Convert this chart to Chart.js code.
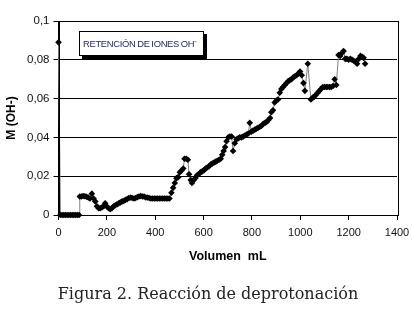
<!DOCTYPE html>
<html>
<head>
<meta charset="utf-8">
<script src="https://cdn.jsdelivr.net/npm/chart.js@4/dist/chart.umd.min.js"></script>
<style>
  html, body { margin: 0; padding: 0; background: #fff; }
  #wrap { position: relative; width: 412px; height: 316px; }
  #chart { position: absolute; left: 0; top: 0; }
  .legend-box {
    position: absolute; left: 79px; top: 31px; width: 120px; height: 23px;
    border: 1px solid #000; box-shadow: 3px 3px 0 #000; background: #fff;
    font: 9.4px "Liberation Sans", Arial, sans-serif; color: #1c2a6e;
    line-height: 23px; padding-left: 3px; white-space: nowrap; box-sizing: content-box;
    word-spacing: -0.6px; letter-spacing: -0.3px;
  }
  .legend-box sup { font-size: 7px; line-height: 0; }
  .caption {
    position: absolute; left: 2px; top: 284px; width: 412px; text-align: center;
    font: 16px "DejaVu Serif", serif; color: #222;
  }
</style>
</head>
<body>
<div id="wrap">
  <canvas id="chart" width="412" height="316"></canvas>
  <div class="legend-box">RETENCIÓN DE IONES OH<sup>-</sup></div>
  <div class="caption">Figura 2. Reacción de deprotonación</div>
</div>
<script>
// volumen (mL) y concentración M (OH-)
const VOLUME_ML = [
  0, 8, 15, 22, 29, 36, 43, 50, 57, 64, 71, 78, 85,
  88, 95, 102, 109, 116, 123, 130, 138, 145, 152, 159, 166, 173, 180, 187, 193,
  200, 207, 214, 221, 228, 235, 242, 249, 256, 263, 270, 277, 284, 291, 298,
  305, 312, 319, 326, 333, 340, 347, 354, 361, 368, 375, 382, 389, 396,
  403, 410, 417, 424, 431, 438, 445, 452, 459, 467, 474, 481, 488, 495,
  502, 509, 516, 521, 528, 535, 540, 547, 552, 559, 566, 573, 580, 587, 594,
  601, 608, 615, 622, 629, 636, 643, 650, 657, 664, 671, 677, 683, 689, 695,
  702, 709, 716, 722, 729, 736, 743, 750, 757, 764, 771, 778, 785, 791, 798,
  805, 812, 819, 826, 833, 840, 847, 854, 861, 868, 875, 880, 887, 894,
  901, 908, 915, 922, 929, 936, 943, 950, 957, 964, 971, 978, 985, 992, 999,
  1006, 1013, 1019, 1031, 1044, 1051, 1058, 1065, 1072, 1079, 1086, 1093,
  1100, 1107, 1114, 1121, 1128, 1135, 1142, 1149, 1158, 1165, 1172, 1179,
  1186, 1193, 1200, 1207, 1214, 1221, 1228, 1235, 1242, 1249, 1256, 1262, 1268
];
const M_OH = [
  0.089, 0, 0, 0, 0, 0, 0, 0, 0, 0, 0, 0, 0,
  0.0095, 0.0095, 0.0098, 0.0097, 0.0094, 0.009, 0.0085, 0.011, 0.0085, 0.007, 0.0045, 0.0035, 0.0035, 0.004, 0.0045, 0.006,
  0.0045, 0.0035, 0.003, 0.0035, 0.0045, 0.005, 0.0055, 0.006, 0.0065, 0.007, 0.0072, 0.0078, 0.0082, 0.0088, 0.009,
  0.0088, 0.0085, 0.0088, 0.0092, 0.0095, 0.0098, 0.0095, 0.0095, 0.009, 0.009, 0.0088, 0.0085, 0.0085, 0.0085,
  0.0085, 0.0085, 0.0085, 0.0085, 0.0085, 0.0085, 0.0085, 0.0085, 0.0085, 0.0115, 0.014, 0.0165, 0.019, 0.0195,
  0.022, 0.023, 0.024, 0.029, 0.029, 0.0285, 0.021, 0.018, 0.0165, 0.018, 0.019, 0.0205, 0.021, 0.022, 0.0225,
  0.023, 0.024, 0.0245, 0.025, 0.026, 0.0265, 0.027, 0.0275, 0.028, 0.0285, 0.029, 0.031, 0.033, 0.035, 0.038,
  0.040, 0.0405, 0.0405, 0.033, 0.037, 0.039, 0.0395, 0.040, 0.040, 0.0405, 0.041, 0.0415, 0.042, 0.0475, 0.043,
  0.0435, 0.044, 0.0445, 0.045, 0.0455, 0.046, 0.047, 0.0475, 0.048, 0.049, 0.050, 0.053, 0.054, 0.058,
  0.059, 0.0595, 0.063, 0.065, 0.066, 0.067, 0.068, 0.069, 0.0695, 0.070, 0.071, 0.0715, 0.072, 0.073, 0.074,
  0.072, 0.068, 0.064, 0.078, 0.0595, 0.0605, 0.061, 0.062, 0.063, 0.064, 0.065, 0.066,
  0.066, 0.066, 0.066, 0.066, 0.066, 0.0665, 0.070, 0.067, 0.0825, 0.082, 0.0835, 0.0845,
  0.0805, 0.0805, 0.080, 0.0805, 0.080, 0.0795, 0.079, 0.078, 0.0805, 0.082, 0.0815, 0.081, 0.078
];
const X_TICKS = [0, 200, 400, 600, 800, 1000, 1200, 1400];
const Y_TICKS = [0, 0.02, 0.04, 0.06, 0.08, 0.1];

Chart.defaults.font.family = "'Liberation Sans', Arial, sans-serif";
Chart.defaults.color = "#111";

// marco negro alrededor del área de trazado
const plotBorder = {
  id: "plotBorder",
  afterDraw(chart) {
    const { ctx, chartArea: a } = chart;
    ctx.save();
    ctx.strokeStyle = "#000";
    ctx.lineWidth = 1;
    ctx.strokeRect(Math.round(a.left) + 0.5, Math.round(a.top) + 0.5,
      Math.round(a.right - a.left), Math.round(a.bottom - a.top));
    ctx.restore();
  }
};

const points = VOLUME_ML.map((v, i) => ({ x: v, y: M_OH[i] }));

new Chart(document.getElementById("chart"), {
  type: "line",
  data: {
    datasets: [{
      label: "RETENCIÓN DE IONES OH-",
      data: points,
      borderColor: "#808080",
      borderWidth: 1,
      pointStyle: "rectRot",
      pointRadius: 3.3,
      pointBackgroundColor: "#000",
      pointBorderColor: "#000",
      pointBorderWidth: 0,
      tension: 0,
      clip: false
    }]
  },
  options: {
    responsive: false,
    devicePixelRatio: 1,
    animation: false,
    layout: { padding: { left: 0, top: 21, right: 15, bottom: 48 } },
    plugins: { legend: { display: false }, tooltip: { enabled: false } },
    scales: {
      x: {
        type: "linear",
        min: 0, max: 1400,
        afterBuildTicks(scale) { scale.ticks = X_TICKS.map(v => ({ value: v })); },
        afterFit(scale) { scale.height = 53; scale.paddingLeft = 0; scale.paddingRight = 0; },
        grid: { drawOnChartArea: false, color: "#000", tickLength: 5 },
        border: { color: "#000" },
        ticks: { font: { size: 11 }, padding: 6, maxRotation: 0, callback: v => String(v) },
        title: { display: true, text: "Volumen  mL", font: { size: 12.5, weight: "bold" }, color: "#000" }
      },
      y: {
        min: 0, max: 0.1,
        afterBuildTicks(scale) { scale.ticks = Y_TICKS.map(v => ({ value: v })); },
        afterFit(scale) { scale.width = 58.5; },
        grid: { color: "#000", tickLength: 5 },
        border: { color: "#000" },
        ticks: {
          font: { size: 11.5 }, padding: 4,
          callback: v => v === 0 ? "0" : String(+v.toFixed(2)).replace(".", ",")
        },
        title: { display: true, text: "M (OH-)", font: { size: 12, weight: "bold" }, color: "#000" }
      }
    }
  },
  plugins: [plotBorder]
});
</script>
</body>
</html>
